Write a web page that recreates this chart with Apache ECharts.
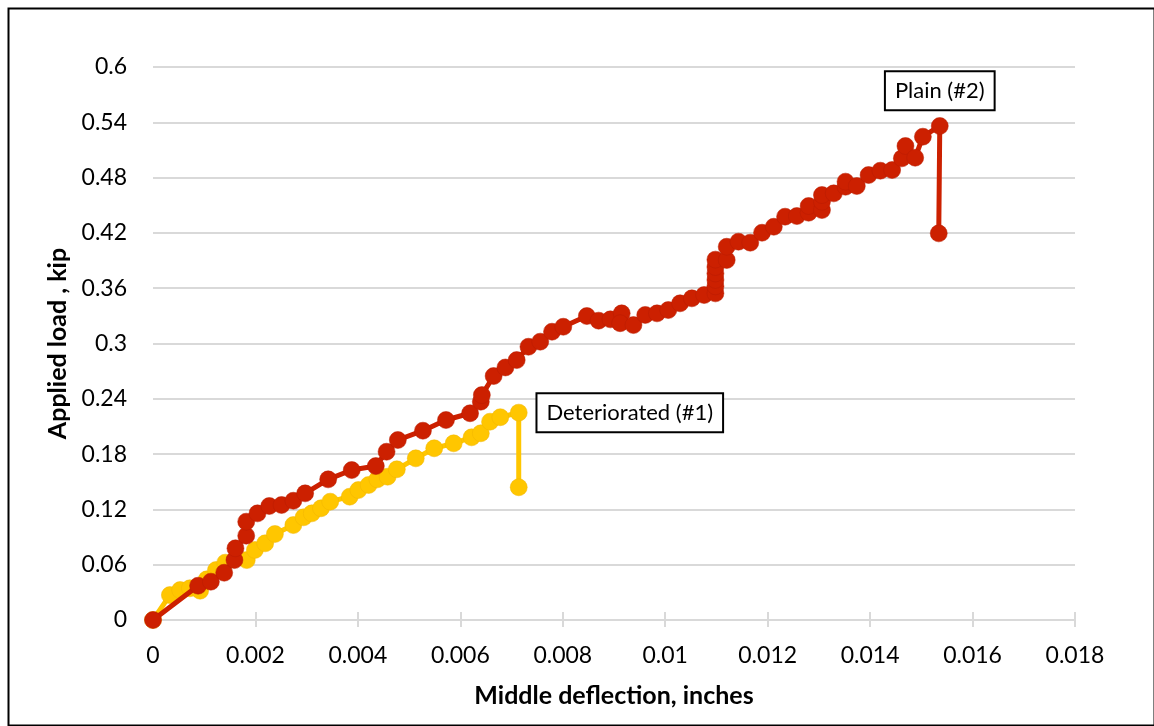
<!DOCTYPE html>
<html>
<head>
<meta charset="utf-8">
<script src="https://cdn.jsdelivr.net/npm/echarts@6/dist/echarts.min.js"></script>
<style>
html,body{margin:0;padding:0;background:#fff;}
#c{width:1154px;height:726px;}
</style>
</head>
<body>
<div id="c"></div>
<script>
var xTicks = [0, 0.002, 0.004, 0.006, 0.008, 0.01, 0.012, 0.014, 0.016, 0.018];
var yTicks = [0, 0.06, 0.12, 0.18, 0.24, 0.3, 0.36, 0.42, 0.48, 0.54, 0.6];

var detX = [0, 0.00033, 0.00053, 0.00072, 0.00092, 0.00105, 0.00123, 0.00141, 0.00183, 0.00199, 0.00219, 0.00238, 0.00274, 0.00294, 0.0031, 0.00328, 0.00346, 0.00384, 0.00401, 0.00421, 0.00438, 0.00458, 0.00476, 0.00513, 0.00549, 0.00587, 0.00622, 0.0064, 0.00658, 0.00678, 0.00714, 0.00714];
var detY = [0, 0.027, 0.0325, 0.0344, 0.0318, 0.0441, 0.0542, 0.0622, 0.065, 0.076, 0.0832, 0.0933, 0.103, 0.1114, 0.1157, 0.1212, 0.1284, 0.1338, 0.141, 0.1465, 0.1526, 0.1555, 0.1635, 0.1754, 0.1863, 0.1917, 0.1982, 0.2026, 0.2152, 0.22, 0.225, 0.144];

var plainX = [0, 0.00088, 0.00113, 0.00139, 0.00159, 0.00161, 0.00182, 0.00182, 0.00204, 0.00227, 0.00251, 0.00274, 0.00297, 0.00342, 0.00388, 0.00435, 0.00456, 0.00478, 0.00527, 0.00572, 0.00619, 0.0064, 0.00642, 0.00665, 0.00688, 0.0071, 0.00733, 0.00756, 0.00779, 0.00801, 0.00847, 0.0087, 0.00893, 0.00915, 0.00912, 0.00938, 0.00961, 0.00984, 0.01006, 0.01029, 0.01052, 0.01076, 0.01098, 0.01098, 0.01098, 0.01098, 0.01098, 0.01098, 0.0112, 0.0112, 0.01143, 0.01166, 0.01189, 0.01212, 0.01234, 0.01257, 0.0128, 0.0128, 0.01306, 0.01306, 0.01306, 0.01329, 0.01352, 0.01352, 0.01374, 0.01397, 0.0142, 0.01443, 0.01462, 0.01469, 0.01488, 0.01503, 0.01536, 0.01534];
var plainY = [0, 0.0372, 0.0416, 0.0513, 0.065, 0.0778, 0.0915, 0.1067, 0.1157, 0.1237, 0.1248, 0.1294, 0.1374, 0.1526, 0.1627, 0.167, 0.1826, 0.1953, 0.2054, 0.217, 0.2243, 0.2369, 0.244, 0.2647, 0.274, 0.282, 0.2965, 0.302, 0.3128, 0.3182, 0.3298, 0.3248, 0.3262, 0.3327, 0.322, 0.32, 0.331, 0.3327, 0.3363, 0.3436, 0.349, 0.3526, 0.3544, 0.362, 0.369, 0.376, 0.383, 0.391, 0.3906, 0.405, 0.4105, 0.4094, 0.4202, 0.4267, 0.4376, 0.4383, 0.4419, 0.4492, 0.4448, 0.4538, 0.4611, 0.4629, 0.4701, 0.4756, 0.4709, 0.4828, 0.4875, 0.4882, 0.5009, 0.5143, 0.5016, 0.5244, 0.536, 0.4195];

var detName = 'Deteriorated (#1)';
var plainName = 'Plain (#2)';
var detLabelIndex = 30;
var plainLabelIndex = 72;

var FONT = 'Lato';
var boxLabel = {
  color: '#000', fontFamily: FONT, fontSize: 22,
  backgroundColor: '#fff', borderColor: '#000', borderWidth: 2,
  padding: [8, 9, 7, 9]
};

function build(xs, ys, labelIdx, name, pos, dist) {
  return xs.map(function (x, i) {
    var item = { value: [x, ys[i]] };
    if (i === labelIdx) {
      item.label = Object.assign({ show: true, position: pos, distance: dist, formatter: name }, boxLabel);
    }
    return item;
  });
}

var chart = echarts.init(document.getElementById('c'));
chart.setOption({
  animation: false,
  backgroundColor: '#fff',
  graphic: [{
    type: 'rect', left: 6, top: 6,
    shape: { x: 0, y: 0, width: 1146, height: 717 },
    style: { fill: 'none', stroke: '#000', lineWidth: 2 }, silent: true, z: -1
  }],
  grid: { left: 153, right: 79, top: 67, bottom: 106, containLabel: false },
  xAxis: [{
    type: 'value', min: 0, max: 0.018, interval: 0.002,
    name: 'Middle deflection, inches', nameLocation: 'middle', nameGap: 63,
    nameTextStyle: { fontFamily: FONT, fontSize: 25, fontWeight: 'bold', color: '#000' },
    axisLine: { show: true, lineStyle: { color: '#d9d9d9', width: 2 } },
    axisTick: { show: true, length: 7, lineStyle: { color: '#d9d9d9', width: 2 } },
    axisLabel: { fontFamily: FONT, fontSize: 23, color: '#000', margin: 24,
      formatter: function (v) { return String(+v.toFixed(4)); } },
    splitLine: { show: false }
  }, {
    type: 'value', min: 0, max: 0.018, interval: 0.002, position: 'bottom',
    axisLine: { show: false },
    axisTick: { show: true, inside: true, length: 8, lineStyle: { color: '#d9d9d9', width: 2 } },
    axisLabel: { show: false }, splitLine: { show: false }
  }],
  yAxis: {
    type: 'value', min: 0, max: 0.6, interval: 0.06,
    name: 'Applied load , kip', nameLocation: 'middle', nameGap: 80,
    nameTextStyle: { fontFamily: FONT, fontSize: 25, fontWeight: 'bold', color: '#000' },
    axisLine: { show: false }, axisTick: { show: false },
    axisLabel: { fontFamily: FONT, fontSize: 23, color: '#000', margin: 26,
      formatter: function (v) { return String(+v.toFixed(4)); } },
    splitLine: { show: true, lineStyle: { color: '#d9d9d9', width: 2 } }
  },
  series: [{
    name: detName, type: 'line', xAxisIndex: 0,
    data: build(detX, detY, detLabelIndex, detName, 'right', 10),
    symbol: 'circle', symbolSize: 17,
    lineStyle: { color: '#ffc600', width: 5 },
    itemStyle: { color: '#ffc600', borderColor: '#f0b400', borderWidth: 0.5 },
    z: 2
  }, {
    name: plainName, type: 'line', xAxisIndex: 0,
    data: build(plainX, plainY, plainLabelIndex, plainName, 'top', 8),
    symbol: 'circle', symbolSize: 17,
    lineStyle: { color: '#cc2000', width: 5 },
    itemStyle: { color: '#cc2000', borderColor: '#b81c00', borderWidth: 0.5 },
    z: 3
  }]
});
</script>
</body>
</html>
